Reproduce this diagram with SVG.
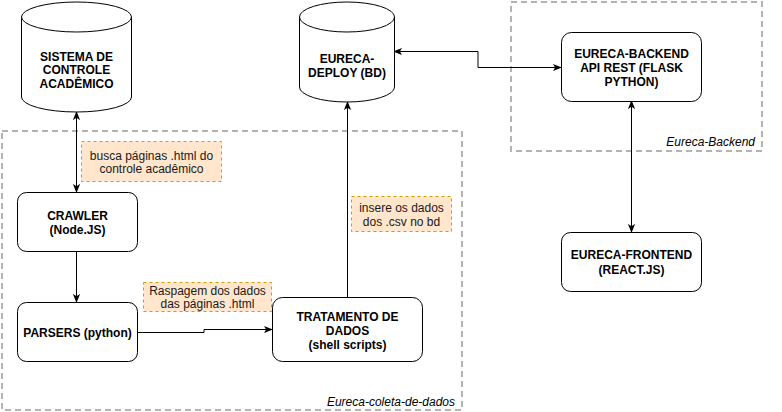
<svg xmlns="http://www.w3.org/2000/svg" width="782" height="412" viewBox="0 0 782 412">
<defs>
<style>
.grp{fill:none;stroke:#b3b3b3;stroke-width:2;stroke-dasharray:6 4}
.node{fill:#fff;stroke:#000;stroke-width:1}
.t{font-family:"Liberation Sans",Arial,sans-serif;font-size:12px;font-weight:bold;text-anchor:middle;fill:#000}
.lbl{font-family:"Liberation Sans",Arial,sans-serif;font-size:12px;text-anchor:middle;fill:#1a1a1a}
.gl{font-family:"Liberation Sans",Arial,sans-serif;font-size:12px;font-style:italic;text-anchor:end;fill:#000}
.note{fill:#ffe6cc;stroke:#d79b00;stroke-width:1;stroke-dasharray:3 3}
.edge{fill:none;stroke:#000;stroke-width:1}
</style>
<marker id="ah" viewBox="0 0 10 10" refX="9" refY="5" markerWidth="9" markerHeight="9" markerUnits="userSpaceOnUse" orient="auto-start-reverse">
<path d="M0,1 L10,5 L0,9 L2.5,5 Z" fill="#000"/>
</marker>
</defs>
<rect width="782" height="412" fill="#fff"/>
<g id="group-coleta">
<rect class="grp" x="2" y="131" width="460" height="279"/>
<text class="gl" x="455" y="406">Eureca-coleta-de-dados</text>
</g>
<g id="group-backend">
<rect class="grp" x="511" y="2" width="251" height="149"/>
<text class="gl" x="755" y="146">Eureca-Backend</text>
</g>
<g id="connectors">
<path class="edge" d="M76.5,112 V192" marker-start="url(#ah)" marker-end="url(#ah)"/>
<path class="edge" d="M76.5,252 V302" marker-end="url(#ah)"/>
<path class="edge" d="M137,332.5 H204 V329.5 H272" marker-end="url(#ah)"/>
<path class="edge" d="M347.5,297 V102" marker-end="url(#ah)"/>
<path class="edge" d="M394,51.5 H478 V67.5 H561" marker-start="url(#ah)" marker-end="url(#ah)"/>
<path class="edge" d="M631.5,101 V232" marker-start="url(#ah)" marker-end="url(#ah)"/>
</g>
<g id="label-busca">
<rect class="note" x="81.5" y="141.5" width="140" height="40"/>
<text class="lbl" x="151.5" y="159.5">busca páginas .html do</text>
<text class="lbl" x="151.5" y="173">controle acadêmico</text>
</g>
<g id="label-raspagem">
<rect class="note" x="143.5" y="282.5" width="128" height="29"/>
<text class="lbl" x="207.5" y="294.5">Raspagem dos dados</text>
<text class="lbl" x="207.5" y="308">das páginas .html</text>
</g>
<g id="label-insere">
<rect class="note" x="351.5" y="196.5" width="100" height="35"/>
<text class="lbl" x="401.5" y="212">insere os dados</text>
<text class="lbl" x="401.5" y="226">dos .csv no bd</text>
</g>
<g id="node-sistema">
<path class="node" d="M21.5,17 A55,15 0 0 1 131.5,17 V97 A55,15 0 0 1 21.5,97 Z"/>
<path class="node" d="M21.5,17 A55,15 0 0 0 131.5,17" fill="none"/>
<text class="t" x="76.5" y="60.5">SISTEMA DE</text>
<text class="t" x="76.5" y="74">CONTROLE</text>
<text class="t" x="76.5" y="87.5">ACADÊMICO</text>
</g>
<g id="node-deploy">
<path class="node" d="M299.5,17 A47.5,15 0 0 1 394.5,17 V87 A47.5,15 0 0 1 299.5,87 Z"/>
<path class="node" d="M299.5,17 A47.5,15 0 0 0 394.5,17" fill="none"/>
<text class="t" x="347" y="62.5">EURECA-</text>
<text class="t" x="347" y="76.5">DEPLOY (BD)</text>
</g>
<g id="node-crawler">
<rect class="node" x="17.5" y="192.5" width="120" height="59" rx="9"/>
<text class="t" x="77.5" y="219.5">CRAWLER</text>
<text class="t" x="77.5" y="233.5">(Node.JS)</text>
</g>
<g id="node-parsers">
<rect class="node" x="17.5" y="302.5" width="120" height="59" rx="9"/>
<text class="t" x="77.5" y="336.5">PARSERS (python)</text>
</g>
<g id="node-tratamento">
<rect class="node" x="272.5" y="297.5" width="150" height="64" rx="10"/>
<text class="t" x="347.5" y="320.5">TRATAMENTO DE</text>
<text class="t" x="347.5" y="334.5">DADOS</text>
<text class="t" x="347.5" y="348.5">(shell scripts)</text>
</g>
<g id="node-backend">
<rect class="node" x="561.5" y="32.5" width="140" height="69" rx="10"/>
<text class="t" x="631.5" y="57.5">EURECA-BACKEND</text>
<text class="t" x="631.5" y="71.5">API REST (FLASK</text>
<text class="t" x="631.5" y="85.5">PYTHON)</text>
</g>
<g id="node-frontend">
<rect class="node" x="561.5" y="232.5" width="140" height="59" rx="9"/>
<text class="t" x="631.5" y="258.5">EURECA-FRONTEND</text>
<text class="t" x="631.5" y="273.5">(REACT.JS)</text>
</g>
</svg>
